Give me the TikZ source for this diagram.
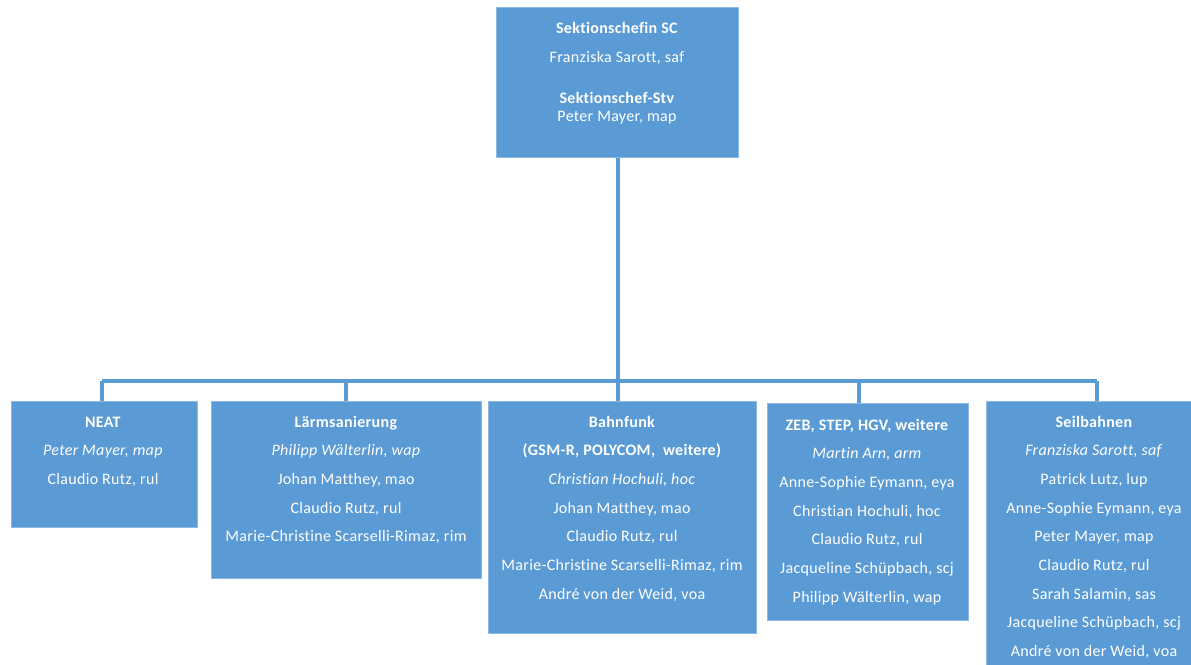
\documentclass[tikz,border=0pt]{standalone}
\usepackage{fontspec}
\setmainfont[LetterSpace=2, Ligatures=NoCommon]{Carlito}
\definecolor{boxblue}{HTML}{5B9BD5}
\definecolor{boxrim}{HTML}{8CB9E3}
% stacked, centred lines of a box; the first baseline is the node's base
\newcommand\orglines[1]{\begin{tabular}[t]{@{}c@{}}#1\end{tabular}}
\begin{document}
\begin{tikzpicture}[x=0.75pt,y=-0.75pt,
  unitbox/.style={fill=boxblue, draw=boxrim, line width=0.6pt, anchor=north west, inner sep=0pt},
  conn/.style={draw=boxblue, line width=2.3pt},
  boxtext/.style={anchor=base, inner sep=0pt, text=white, font=\fontsize{12pt}{21.5pt}\selectfont},
]
\useasboundingbox (0,0) rectangle (1191,664);
\fill[white] (0,0) rectangle (1191,664);

% boxes
\node[unitbox, minimum width=242*0.75pt, minimum height=150*0.75pt] (sc)   at (496,7)   {};
\node[unitbox, minimum width=186*0.75pt, minimum height=126*0.75pt] (neat) at (11,401)  {};
\node[unitbox, minimum width=270*0.75pt, minimum height=177*0.75pt] (laerm) at (211,401) {};
\node[unitbox, minimum width=268*0.75pt, minimum height=232*0.75pt] (funk) at (488,401) {};
\node[unitbox, minimum width=201*0.75pt, minimum height=217*0.75pt] (zeb)  at (767,403) {};
\node[unitbox, minimum width=212*0.75pt, minimum height=270*0.75pt] (seil) at (986,401) {};

% box texts
\node[boxtext, font=\fontsize{12pt}{13.3pt}\selectfont] (sctext) at (617,33.5) {\orglines{%
  \textbf{Sektionschefin SC}\\[8.45pt]
  Franziska Sarott, saf\\[17.3pt]
  \textbf{Sektionschef-Stv}\\
  Peter Mayer, map}};
\node[boxtext] (neattext) at (103,427) {\orglines{%
  \textbf{NEAT}\\
  \textit{Peter Mayer, map}\\
  Claudio Rutz, rul}};
\node[boxtext] (laermtext) at (346,427) {\orglines{%
  \textbf{Lärmsanierung}\\
  \textit{Philipp Wälterlin, wap}\\
  Johan Matthey, mao\\
  Claudio Rutz, rul\\
  Marie-Christine Scarselli-Rimaz, rim}};
\node[boxtext] (funktext) at (622,427) {\orglines{%
  \textbf{Bahnfunk}\\
  \textbf{(GSM-R, POLYCOM,\ \ weitere)}\\
  \textit{Christian Hochuli, hoc}\\
  Johan Matthey, mao\\
  Claudio Rutz, rul\\
  Marie-Christine Scarselli-Rimaz, rim\\
  André von der Weid, voa}};
\node[boxtext] (zebtext) at (867,430) {\orglines{%
  \textbf{ZEB, STEP, HGV, weitere}\\
  \textit{Martin Arn, arm}\\
  Anne-Sophie Eymann, eya\\
  Christian Hochuli, hoc\\
  Claudio Rutz, rul\\
  Jacqueline Schüpbach, scj\\
  Philipp Wälterlin, wap}};
\node[boxtext] (seiltext) at (1094,427) {\orglines{%
  \textbf{Seilbahnen}\\
  \textit{Franziska Sarott, saf}\\
  Patrick Lutz, lup\\
  Anne-Sophie Eymann, eya\\
  Peter Mayer, map\\
  Claudio Rutz, rul\\
  Sarah Salamin, sas\\
  Jacqueline Schüpbach, scj\\
  André von der Weid, voa}};

% connector junctions on the bus
\coordinate (jneat)  at (102,381);
\coordinate (jlaerm) at (346,381);
\coordinate (jmid)   at (618,381);
\coordinate (jzeb)   at (859,381);
\coordinate (jseil)  at (1097,381);

% connectors
\draw[conn] (sc.south -| jmid) -- (jmid);
\draw[conn] (jneat) -- (jseil);
\draw[conn] (jneat)  -- (jneat  |- neat.north);
\draw[conn] (jlaerm) -- (jlaerm |- laerm.north);
\draw[conn] (jmid)   -- (jmid   |- funk.north);
\draw[conn] (jzeb)   -- (jzeb   |- zeb.north);
\draw[conn] (jseil)  -- (jseil  |- seil.north);
\end{tikzpicture}
\end{document}
